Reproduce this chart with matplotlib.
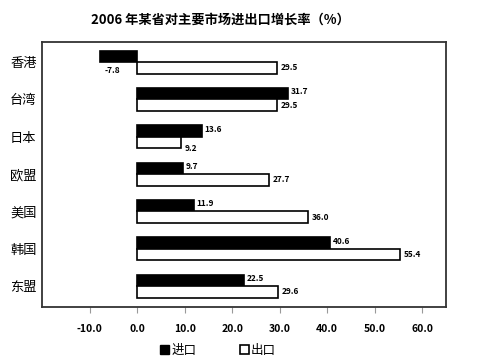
import matplotlib.pyplot as plt
import numpy as np
from matplotlib.patches import Patch

plt.rcParams['font.family'] = ['Noto Sans CJK SC', 'DejaVu Sans']

categories = ["香港", "台湾", "日本", "欧盟", "美国", "韩国", "东盟"]
imports = [-7.8, 31.7, 13.6, 9.7, 11.9, 40.6, 22.5]
exports = [29.5, 29.5, 9.2, 27.7, 36.0, 55.4, 29.6]
xticks = [-10, 0, 10, 20, 30, 40, 50, 60]

fig = plt.figure(figsize=(4.79, 3.62), dpi=100)
ax = fig.add_axes([0.088, 0.152, 0.843, 0.732])

y = np.arange(len(categories))
h = 0.31
ax.barh(y - h / 2, imports, height=h, color='black', edgecolor='black', linewidth=1.2)
ax.barh(y + h / 2, exports, height=h, color='white', edgecolor='black', linewidth=1.2)

for i, v in enumerate(imports):
    if v < 0:
        ax.text(v + 2.5, i + 0.22, f"{v:.1f}", ha='center', va='center',
                fontsize=6, fontweight='bold')
    else:
        ax.text(v + 0.6, i - h / 2 - 0.05, f"{v:.1f}", ha='left', va='center',
                fontsize=6, fontweight='bold')
for i, v in enumerate(exports):
    dy = 0.15 if v < 10 else 0
    ax.text(v + 0.8, i + h / 2 + dy, f"{v:.1f}", ha='left', va='center',
            fontsize=6, fontweight='bold')

ax.set_xlim(-20, 65)
ax.set_ylim(len(categories) - 0.44, -0.54)
ax.set_xticks(xticks)
ax.set_xticklabels([f"{t:.1f}" for t in xticks], fontsize=7.5, fontweight='bold')
ax.tick_params(axis='x', direction='out', length=4, color='#999999', pad=8)
ax.set_yticks(y)
ax.set_yticklabels(categories, fontsize=9.5)
ax.tick_params(axis='y', length=0, pad=4)
for s in ax.spines.values():
    s.set_linewidth(1.3)
    s.set_color('#333333')

fig.text(0.46, 0.945, "2006 年某省对主要市场进出口增长率（%）", ha='center', va='center',
         fontsize=9.5, fontweight='bold')

handles = [Patch(facecolor='black', edgecolor='black'),
           Patch(facecolor='white', edgecolor='black', linewidth=1.2)]
fig.legend(handles, ["进口", "出口"], loc='center', bbox_to_anchor=(0.455, 0.033),
           ncol=2, frameon=False, fontsize=9, handlelength=0.7, handleheight=0.7,
           handletextpad=0.2, columnspacing=3.5)

fig.savefig("out.png", dpi=100)
